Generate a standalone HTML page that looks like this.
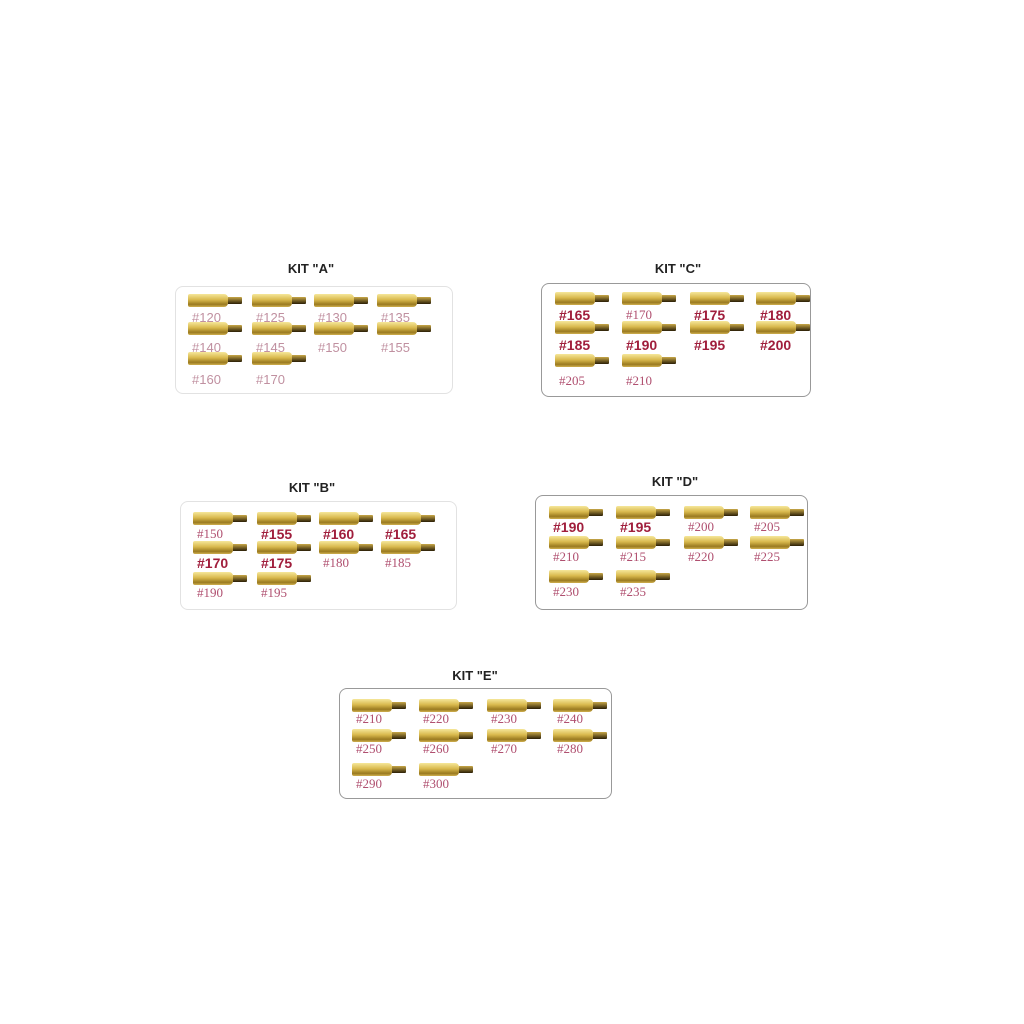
<!DOCTYPE html>
<html><head><meta charset="utf-8"><style>
body{margin:0;background:#fff;width:1024px;height:1024px;position:relative;overflow:hidden;font-family:"Liberation Sans",sans-serif}
.box{position:absolute;box-sizing:border-box;border:1.5px solid #e2e2e2;border-radius:8px}
.box.dk{border:1.5px solid #999}
.t{position:absolute;font-weight:bold;font-size:13px;color:#222;transform:translateX(-50%);white-space:nowrap}
.j{position:absolute;width:56px;height:13px}
.j .b{position:absolute;left:0;top:0;width:40px;height:13px;border-radius:2px 4px 4px 2px;background:linear-gradient(#f6e79a,#d8b84c 45%,#9a7a20 80%,#d0b050)}
.j .p{position:absolute;left:40px;top:3px;width:14px;height:7px;background:linear-gradient(#c8a848,#2a1e06);border-radius:0 1px 1px 0}
.l{position:absolute;font-size:13px;color:#c090a0;white-space:nowrap}
.l.s{font-family:"Liberation Serif",serif;color:#b05070}
.l.bd{font-weight:bold;color:#a01e3c;font-size:14px}
</style></head><body>
<div id="c"></div>
<script>
var kits=[
{t:"KIT \"A\"",tx:311,ty:261,box:[175,286,278,108],dk:0,cols:[188,252,314,377],rows:[294,322,352],lab:[310,340,372],
 items:[["#120"],["#125"],["#130"],["#135"],["#140"],["#145"],["#150"],["#155"],["#160"],["#170"]]},
{t:"KIT \"C\"",tx:678,ty:261,box:[541,283,270,114],dk:1,cols:[555,622,690,756],rows:[292,321,354],lab:[307,337,373],
 items:[["#165","bd"],["#170","s"],["#175","bd"],["#180","bd"],["#185","bd"],["#190","bd"],["#195","bd"],["#200","bd"],["#205","s"],["#210","s"]]},
{t:"KIT \"B\"",tx:312,ty:480,box:[180,501,277,109],dk:0,cols:[193,257,319,381],rows:[512,541,572],lab:[526,555,585],
 items:[["#150","s"],["#155","bd"],["#160","bd"],["#165","bd"],["#170","bd"],["#175","bd"],["#180","s"],["#185","s"],["#190","s"],["#195","s"]]},
{t:"KIT \"D\"",tx:675,ty:474,box:[535,495,273,115],dk:1,cols:[549,616,684,750],rows:[506,536,570],lab:[519,549,584],
 items:[["#190","bd"],["#195","bd"],["#200","s"],["#205","s"],["#210","s"],["#215","s"],["#220","s"],["#225","s"],["#230","s"],["#235","s"]]},
{t:"KIT \"E\"",tx:475,ty:668,box:[339,688,273,111],dk:1,cols:[352,419,487,553],rows:[699,729,763],lab:[711,741,776],
 items:[["#210","s"],["#220","s"],["#230","s"],["#240","s"],["#250","s"],["#260","s"],["#270","s"],["#280","s"],["#290","s"],["#300","s"]]}
];
var h="";
kits.forEach(function(k){
 h+='<div class="t" style="left:'+k.tx+'px;top:'+k.ty+'px">'+k.t.replace(/"/g,'&quot;')+'</div>';
 h+='<div class="box'+(k.dk?' dk':'')+'" style="left:'+k.box[0]+'px;top:'+k.box[1]+'px;width:'+k.box[2]+'px;height:'+k.box[3]+'px"></div>';
 k.items.forEach(function(it,i){
  var r=Math.floor(i/4),c=i%4,x=k.cols[c];
  h+='<div class="j" style="left:'+x+'px;top:'+k.rows[r]+'px"><div class="b"></div><div class="p"></div></div>';
  h+='<div class="l '+(it[1]||'')+'" style="left:'+(x+4)+'px;top:'+k.lab[r]+'px">'+it[0]+'</div>';
 });
});
document.getElementById("c").innerHTML=h;
</script>
</body></html>
